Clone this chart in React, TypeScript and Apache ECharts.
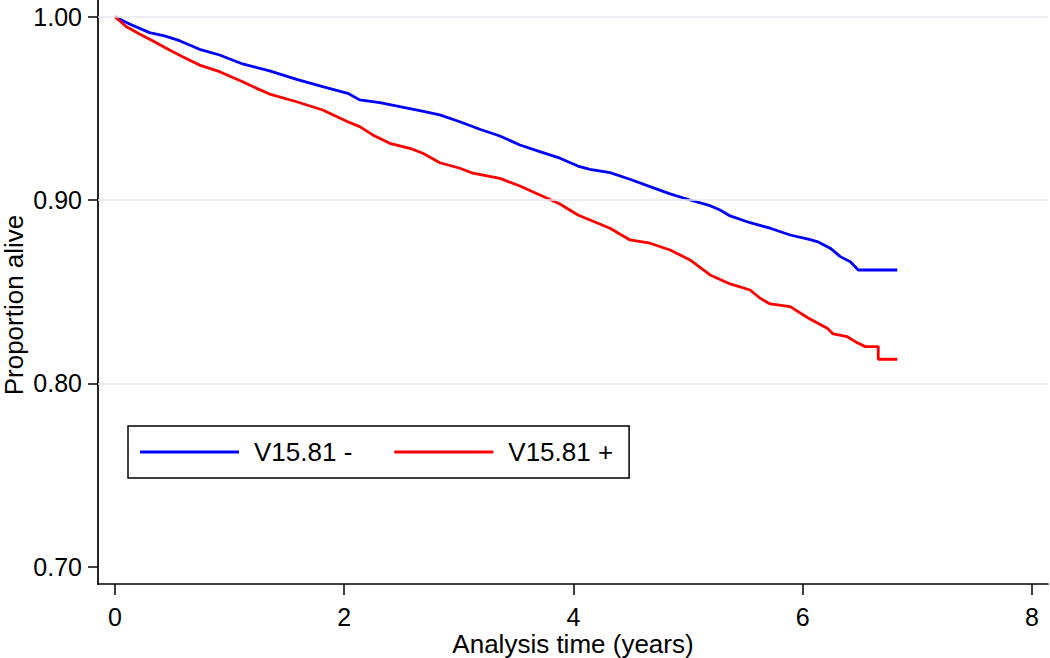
import React, { useEffect, useRef } from "react";
import * as echarts from "echarts";

// Kaplan-Meier survival estimates (time in years, proportion alive)
const negTime = [0, 0.127, 0.301, 0.432, 0.563, 0.738, 0.913, 1.114, 1.349, 1.585, 1.812, 2.031, 2.135, 2.31, 2.485, 2.659, 2.834, 3.009, 3.183, 3.358, 3.533, 3.707, 3.882, 4.039, 4.144, 4.319, 4.493, 4.668, 4.843, 5.017, 5.192, 5.279, 5.367, 5.541, 5.716, 5.891, 6.048, 6.127, 6.24, 6.328, 6.415, 6.485, 6.825];
const negSurv = [1.0, 0.996, 0.9913, 0.9895, 0.9869, 0.9822, 0.9791, 0.9742, 0.9704, 0.9658, 0.9618, 0.9582, 0.9546, 0.9531, 0.9509, 0.9487, 0.9464, 0.9427, 0.9386, 0.9349, 0.93, 0.9264, 0.9228, 0.9185, 0.9167, 0.9149, 0.9113, 0.9073, 0.9033, 0.9, 0.8969, 0.8945, 0.8913, 0.8876, 0.8846, 0.8809, 0.8786, 0.8773, 0.8737, 0.8691, 0.8663, 0.8618, 0.8618];

const posTime = [0, 0.1, 0.214, 0.328, 0.476, 0.59, 0.738, 0.913, 1.114, 1.236, 1.349, 1.585, 1.812, 2.031, 2.135, 2.249, 2.397, 2.572, 2.686, 2.834, 3.009, 3.122, 3.358, 3.533, 3.707, 3.882, 4.039, 4.144, 4.319, 4.493, 4.668, 4.843, 5.017, 5.192, 5.367, 5.541, 5.629, 5.716, 5.891, 6.048, 6.214, 6.266, 6.389, 6.459, 6.546, 6.659, 6.659, 6.825];
const posSurv = [1.0, 0.9945, 0.9906, 0.9869, 0.9818, 0.9782, 0.9736, 0.97, 0.9645, 0.9609, 0.9578, 0.9536, 0.9491, 0.9427, 0.94, 0.9355, 0.9309, 0.9282, 0.9255, 0.9203, 0.9173, 0.9146, 0.9118, 0.9076, 0.9027, 0.8978, 0.8918, 0.8891, 0.8846, 0.8782, 0.8764, 0.8727, 0.8673, 0.8591, 0.8542, 0.8509, 0.8464, 0.8433, 0.8418, 0.8356, 0.83, 0.8269, 0.8254, 0.8227, 0.82, 0.82, 0.8131, 0.8131];

const seriesNames = ["V15.81 -", "V15.81 +"];
const xTicks = [0, 2, 4, 6, 8];
const yTicks = [0.7, 0.8, 0.9, 1.0];
const yGrid = [0.8, 0.9, 1.0];

const FONT = "'Liberation Sans', Arial, Helvetica, sans-serif";

export default function App() {
  const ref = useRef<HTMLDivElement>(null);
  useEffect(() => {
    if (!ref.current) return;
    const chart = echarts.init(ref.current, undefined, { renderer: "svg" });
    const negData = negTime.map((t, i) => [t, negSurv[i]]);
    const posData = posTime.map((t, i) => [t, posSurv[i]]);
    chart.setOption({
      animation: false,
      backgroundColor: "#ffffff",
      textStyle: { fontFamily: FONT, color: "#000" },
      grid: { left: 98, right: 2, top: 0, bottom: 74, containLabel: false, outerBoundsMode: "none" },
      legend: {
        left: 128,
        top: 426,
        orient: "horizontal",
        data: seriesNames,
        icon: "rect",
        itemWidth: 99,
        itemHeight: 3,
        itemGap: 42,
        padding: [13, 16, 13, 12],
        borderColor: "#000",
        borderWidth: 1.5,
        borderRadius: 0,
        backgroundColor: "#fff",
        selectedMode: false,
        textStyle: { fontSize: 26, color: "#000", fontFamily: FONT, padding: [0, 0, 0, 10] },
      },
      xAxis: {
        type: "value",
        min: -0.148,
        max: 8.14,
        name: "Analysis time (years)",
        nameLocation: "middle",
        nameGap: 47,
        nameMoveOverlap: false,
        nameTextStyle: { fontSize: 26, color: "#000", fontFamily: FONT },
        axisLine: { show: true, onZero: false, lineStyle: { color: "#000", width: 1.7 } },
        axisTick: { show: true, length: 11, customValues: xTicks, lineStyle: { color: "#000", width: 1.5 } },
        axisLabel: { customValues: xTicks, fontSize: 25, color: "#000", margin: 20, fontFamily: FONT },
        splitLine: { show: false },
      },
      yAxis: {
        type: "value",
        min: 0.6905,
        max: 1.0091,
        name: "Proportion alive",
        nameLocation: "middle",
        nameGap: 72,
        nameRotate: 90,
        nameMoveOverlap: false,
        nameTextStyle: { fontSize: 26, lineHeight: 24, color: "#000", fontFamily: FONT, padding: [0, 26, 0, 0] },
        axisLine: { show: true, onZero: false, lineStyle: { color: "#000", width: 1.7 } },
        axisTick: { show: true, length: 10, customValues: yTicks, lineStyle: { color: "#000", width: 1.5 } },
        axisLabel: {
          customValues: yTicks,
          fontSize: 25,
          color: "#000",
          margin: 16,
          fontFamily: FONT,
          formatter: (v: number) => v.toFixed(2),
        },
        splitLine: { show: false },
      },
      series: [
        {
          name: "grid",
          type: "line",
          data: [],
          z: 1,
          silent: true,
          markLine: {
            silent: true,
            symbol: ["none", "none"],
            label: { show: false },
            lineStyle: { color: "#e6e6ec", width: 1.5, type: "solid" },
            data: yGrid.map((v) => ({ yAxis: v })),
          },
        },
        {
          name: seriesNames[0],
          type: "line",
          data: negData,
          showSymbol: false,
          symbol: "none",
          z: 3,
          color: "#0000ff",
          lineStyle: { color: "#0000ff", width: 2.8 },
        },
        {
          name: seriesNames[1],
          type: "line",
          data: posData,
          showSymbol: false,
          symbol: "none",
          z: 3,
          color: "#ff0000",
          lineStyle: { color: "#ff0000", width: 2.8 },
        },
      ],
    });
    return () => chart.dispose();
  }, []);
  return (
    <div
      ref={ref}
      style={{ position: "fixed", left: 0, top: 0, width: 1050, height: 658, background: "#fff" }}
    />
  );
}
